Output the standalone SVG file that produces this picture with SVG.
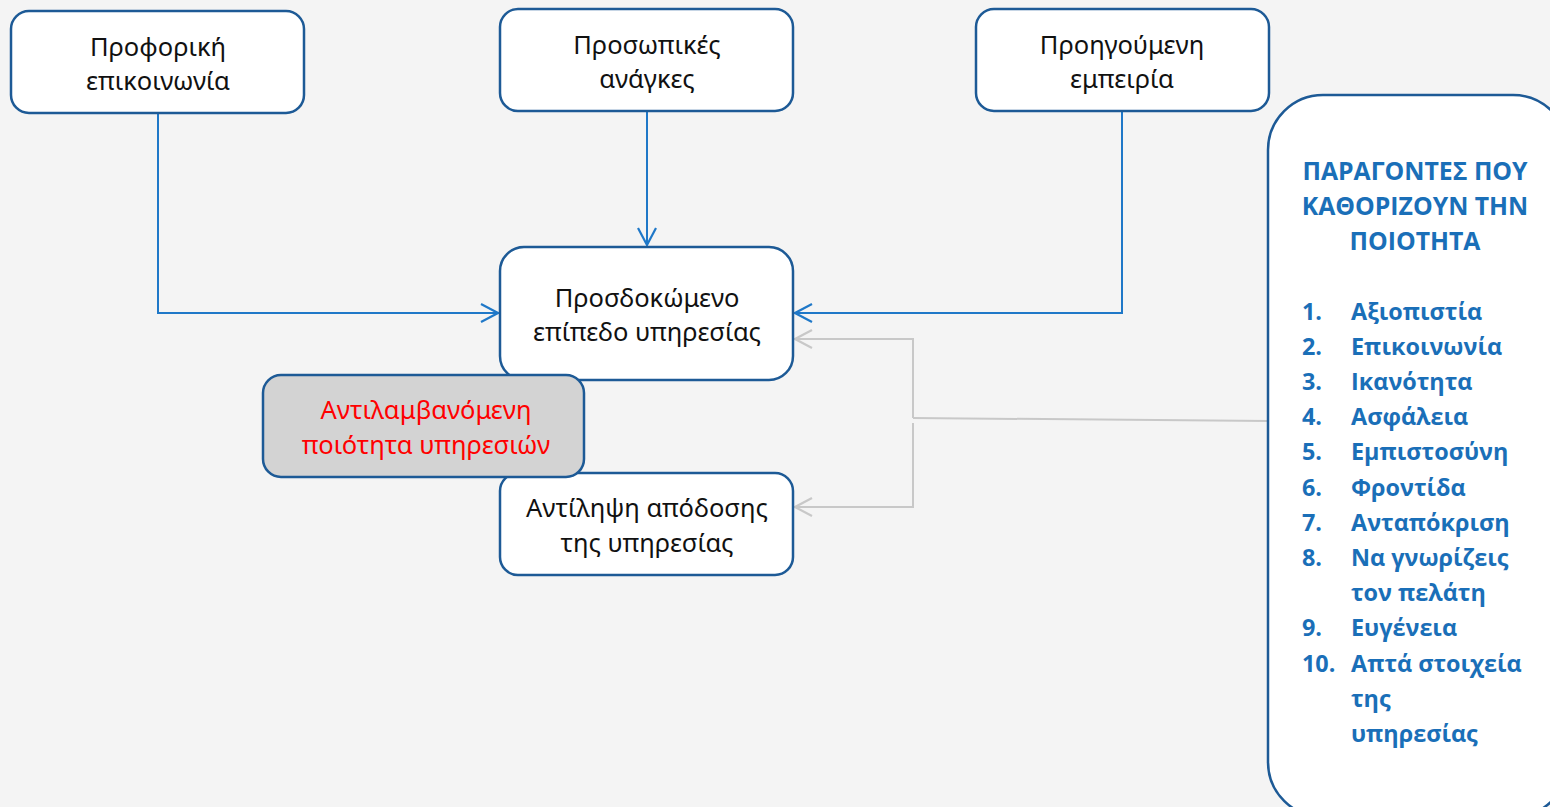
<svg xmlns="http://www.w3.org/2000/svg" width="1550" height="807" viewBox="0 0 1550 807">
  <defs>
    <marker id="arrBlue" markerWidth="20" markerHeight="20" refX="18" refY="10" orient="auto" markerUnits="userSpaceOnUse">
      <path d="M1,1 L18,10 L1,19" fill="none" stroke="#1f78c8" stroke-width="2.2"/>
    </marker>
    <marker id="arrGrey" markerWidth="20" markerHeight="20" refX="18" refY="10" orient="auto" markerUnits="userSpaceOnUse">
      <path d="M1,1 L18,10 L1,19" fill="none" stroke="#c8c8c8" stroke-width="2.2"/>
    </marker>
    <style>
      .box { fill: #ffffff; stroke: #1d5a96; stroke-width: 2.5; }
      .grey { fill: #d3d3d3; stroke: #1d5a96; stroke-width: 2.5; }
      .lbl { font-family: "Noto Sans", "DejaVu Sans", sans-serif; font-size: 25.5px; fill: #111111; text-anchor: middle; }
      .red { fill: #ff0000; }
      .blue { stroke: #1f78c8; stroke-width: 2; fill: none; }
      .gl { stroke: #c8c8c8; stroke-width: 2; fill: none; }
      .side { font-family: "Open Sans", "Noto Sans", sans-serif; font-weight: bold; font-size: 23.4px; fill: #1a6fb8; }
      .title { font-size: 24.8px; text-anchor: middle; }
    </style>
  </defs>
  <rect x="0" y="0" width="1550" height="807" fill="#f4f4f4"/>

  <!-- connectors -->
  <g id="connectors">
    <polyline class="blue" points="158,113 158,313 498,313" marker-end="url(#arrBlue)"/>
    <polyline class="blue" points="647,111 647,245" marker-end="url(#arrBlue)"/>
    <polyline class="blue" points="1122,111 1122,313 795,313" marker-end="url(#arrBlue)"/>
    <polyline class="gl" points="1268,421 913,418"/>
    <polyline class="gl" points="913,418 913,339 795,339" marker-end="url(#arrGrey)"/>
    <polyline class="gl" points="913,423 913,507 795,507" marker-end="url(#arrGrey)"/>
  </g>

  <g id="node-oral">
    <rect class="box" x="11" y="11" width="293" height="102" rx="18"/>
    <text class="lbl" x="158" y="56">Προφορική</text>
    <text class="lbl" x="158" y="90">επικοινωνία</text>
  </g>
  <g id="node-needs">
    <rect class="box" x="500" y="9" width="293" height="102" rx="18"/>
    <text class="lbl" x="647" y="54">Προσωπικές</text>
    <text class="lbl" x="647" y="88">ανάγκες</text>
  </g>
  <g id="node-experience">
    <rect class="box" x="976" y="9" width="293" height="102" rx="18"/>
    <text class="lbl" x="1122" y="54">Προηγούμενη</text>
    <text class="lbl" x="1122" y="88">εμπειρία</text>
  </g>
  <g id="node-expected">
    <rect class="box" x="500" y="247" width="293" height="133" rx="24"/>
    <text class="lbl" x="647" y="307">Προσδοκώμενο</text>
    <text class="lbl" x="647" y="341">επίπεδο υπηρεσίας</text>
  </g>
  <g id="node-performance">
    <rect class="box" x="500" y="473" width="293" height="102" rx="18"/>
    <text class="lbl" x="647" y="517">Αντίληψη απόδοσης</text>
    <text class="lbl" x="647" y="552">της υπηρεσίας</text>
  </g>
  <g id="node-perceived">
    <rect class="grey" x="263" y="375" width="321" height="102" rx="18"/>
    <text class="lbl red" x="426" y="419">Αντιλαμβανόμενη</text>
    <text class="lbl red" x="426" y="454">ποιότητα υπηρεσιών</text>
  </g>

  <g id="node-factors">
    <rect class="box" x="1268" y="95" width="300" height="722" rx="55"/>
    <text class="side title" x="1415" y="180">ΠΑΡΑΓΟΝΤΕΣ ΠΟΥ</text>
    <text class="side title" x="1415" y="215">ΚΑΘΟΡΙΖΟΥΝ ΤΗΝ</text>
    <text class="side title" x="1415" y="250">ΠΟΙΟΤΗΤΑ</text>
    <text class="side" x="1302" y="320">1.</text><text class="side" x="1351" y="320">Αξιοπιστία</text>
    <text class="side" x="1302" y="355">2.</text><text class="side" x="1351" y="355">Επικοινωνία</text>
    <text class="side" x="1302" y="390">3.</text><text class="side" x="1351" y="390">Ικανότητα</text>
    <text class="side" x="1302" y="425">4.</text><text class="side" x="1351" y="425">Ασφάλεια</text>
    <text class="side" x="1302" y="460">5.</text><text class="side" x="1351" y="460">Εμπιστοσύνη</text>
    <text class="side" x="1302" y="496">6.</text><text class="side" x="1351" y="496">Φροντίδα</text>
    <text class="side" x="1302" y="531">7.</text><text class="side" x="1351" y="531">Ανταπόκριση</text>
    <text class="side" x="1302" y="566">8.</text><text class="side" x="1351" y="566">Να γνωρίζεις</text>
    <text class="side" x="1351" y="601">τον πελάτη</text>
    <text class="side" x="1302" y="636">9.</text><text class="side" x="1351" y="636">Ευγένεια</text>
    <text class="side" x="1302" y="672">10.</text><text class="side" x="1351" y="672">Απτά στοιχεία</text>
    <text class="side" x="1351" y="707">της</text>
    <text class="side" x="1351" y="742">υπηρεσίας</text>
  </g>
</svg>
